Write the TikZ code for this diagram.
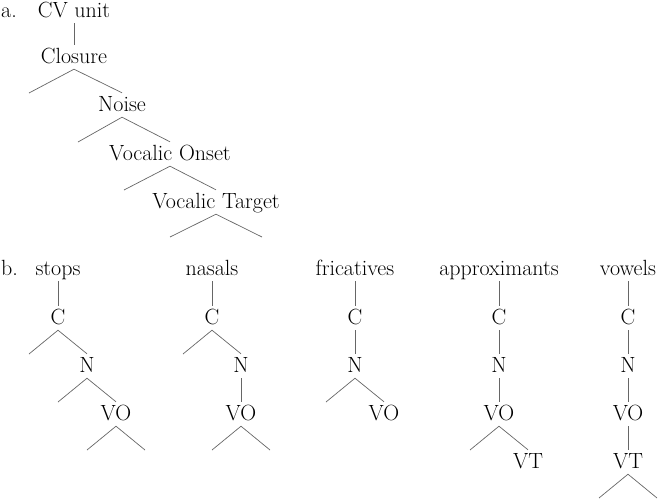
\documentclass[tikz,border=0pt]{standalone}
\usepackage{tikz}
\tikzset{
  lbl/.style={anchor=base west, inner sep=0pt, font=\fontsize{22}{26}\selectfont},
  unit/.style={anchor=base, inner xsep=1pt, inner ysep=6pt, text height=12pt, text depth=0pt, font=\fontsize{22}{26}\selectfont},
  branch/.style={draw=black!60, line width=0.7pt}
}
\begin{document}
\begin{tikzpicture}[x=1pt, y=-1pt]
			%%%%% START %%%%%
			\useasboundingbox (0, 0) rectangle (661, 498);
			
			% a. the CV unit
			\node[lbl] (la) at (1, 17) {a.};
			\node[unit] (cvu) at (74, 17) {CV unit};
			\node[unit] (clo) at (74, 63) {Closure};
			\node[unit] (noi) at (122, 111) {Noise};
			\node[unit] (von) at (170, 160) {Vocalic Onset};
			\node[unit] (vta) at (216, 208) {Vocalic Target};
			\coordinate (clo-l) at (29, 93);
			\coordinate (noi-l) at (78, 142);
			\coordinate (von-l) at (124, 190);
			\coordinate (vta-l) at (170, 237);
			\coordinate (vta-r) at (262, 237);
			
			\draw[branch] (cvu.south) -- (clo.north);
			\draw[branch] (clo-l) -- (clo.south) -- (noi.north);
			\draw[branch] (noi-l) -- (noi.south) -- (von.north);
			\draw[branch] (von-l) -- (von.south) -- (vta.north);
			\draw[branch] (vta-l) -- (vta.south) -- (vta-r);
			
			% b. stops
			\node[lbl] (lb) at (1, 275) {b.};
			\node[unit] (sto) at (58, 275) {stops};
			\node[unit] (sto-c) at (58, 324) {C};
			\node[unit] (sto-n) at (87, 372) {N};
			\node[unit] (sto-vo) at (116, 420) {VO};
			\coordinate (sto-cl) at (29, 354);
			\coordinate (sto-nl) at (58, 402);
			\coordinate (sto-vol) at (87, 450);
			\coordinate (sto-vor) at (145, 450);
			\draw[branch] (sto.south) -- (sto-c.north);
			\draw[branch] (sto-cl) -- (sto-c.south) -- (sto-n.north);
			\draw[branch] (sto-nl) -- (sto-n.south) -- (sto-vo.north);
			\draw[branch] (sto-vol) -- (sto-vo.south) -- (sto-vor);
			
			% nasals
			\node[unit] (nas) at (212, 275) {nasals};
			\node[unit] (nas-c) at (212, 324) {C};
			\node[unit] (nas-n) at (241, 372) {N};
			\node[unit] (nas-vo) at (241, 420) {VO};
			\coordinate (nas-cl) at (183, 354);
			\coordinate (nas-vol) at (212, 450);
			\coordinate (nas-vor) at (270, 450);
			\draw[branch] (nas.south) -- (nas-c.north);
			\draw[branch] (nas-cl) -- (nas-c.south) -- (nas-n.north);
			\draw[branch] (nas-n.south) -- (nas-vo.north);
			\draw[branch] (nas-vol) -- (nas-vo.south) -- (nas-vor);
			
			% fricatives
			\node[unit] (fri) at (355, 275) {fricatives};
			\node[unit] (fri-c) at (355, 324) {C};
			\node[unit] (fri-n) at (355, 372) {N};
			\node[unit] (fri-vo) at (384, 420) {VO};
			\coordinate (fri-nl) at (326, 402);
			\draw[branch] (fri.south) -- (fri-c.north);
			\draw[branch] (fri-c.south) -- (fri-n.north);
			\draw[branch] (fri-nl) -- (fri-n.south) -- (fri-vo.north);
			
			% approximants
			\node[unit] (app) at (499, 275) {approximants};
			\node[unit] (app-c) at (499, 324) {C};
			\node[unit] (app-n) at (499, 372) {N};
			\node[unit] (app-vo) at (499, 420) {VO};
			\node[unit] (app-vt) at (528, 468) {VT};
			\coordinate (app-vol) at (470, 450);
			\draw[branch] (app.south) -- (app-c.north);
			\draw[branch] (app-c.south) -- (app-n.north);
			\draw[branch] (app-n.south) -- (app-vo.north);
			\draw[branch] (app-vol) -- (app-vo.south) -- (app-vt.north);
			
			% vowels
			\node[unit] (vow) at (628, 275) {vowels};
			\node[unit] (vow-c) at (628, 324) {C};
			\node[unit] (vow-n) at (628, 372) {N};
			\node[unit] (vow-vo) at (628, 420) {VO};
			\node[unit] (vow-vt) at (628, 468) {VT};
			\coordinate (vow-vtl) at (599, 498);
			\coordinate (vow-vtr) at (657, 498);
			\draw[branch] (vow.south) -- (vow-c.north);
			\draw[branch] (vow-c.south) -- (vow-n.north);
			\draw[branch] (vow-n.south) -- (vow-vo.north);
			\draw[branch] (vow-vo.south) -- (vow-vt.north);
			\draw[branch] (vow-vtl) -- (vow-vt.south) -- (vow-vtr);
			
			%%%%% END %%%%%
		\end{tikzpicture}
\end{document}
